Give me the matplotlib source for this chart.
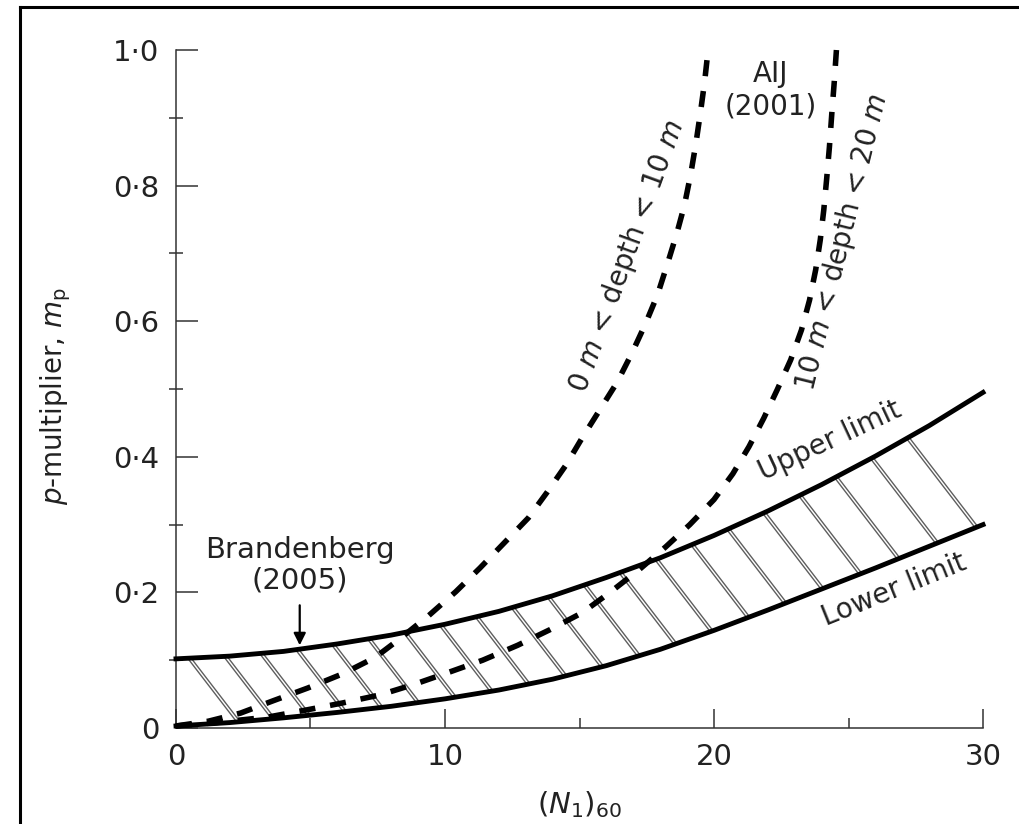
import numpy as np
import matplotlib.pyplot as plt
from matplotlib.lines import Line2D

# Brandenberg (2005) range of p-multiplier vs (N1)60
upper_n = [0, 2, 4, 6, 8, 10, 12, 14, 16, 18, 20, 22, 24, 26, 28, 30]
upper_mp = [0.102, 0.106, 0.113, 0.124, 0.137, 0.153, 0.172, 0.195, 0.222, 0.251,
            0.284, 0.320, 0.359, 0.401, 0.446, 0.495]
lower_n = [0, 2, 4, 6, 8, 10, 12, 14, 16, 18, 20, 22, 24, 26, 28, 30]
lower_mp = [0.003, 0.008, 0.015, 0.023, 0.032, 0.043, 0.056, 0.072, 0.092, 0.116,
            0.144, 0.174, 0.205, 0.236, 0.268, 0.300]

# AIJ (2001), 0 m < depth < 10 m
aij_shallow_n = [0, 1.2, 2.4, 3.6, 4.9, 6.2, 7.4, 8.3, 9.4, 10.4, 11.3, 12.2, 13.1,
                 13.8, 14.5, 15.1, 15.75, 16.4, 16.95, 17.45, 17.9, 18.28, 18.62, 18.9,
                 19.13, 19.33, 19.5, 19.65, 19.78]
aij_shallow_mp = [0.003, 0.010, 0.022, 0.040, 0.059, 0.080, 0.104, 0.131, 0.166, 0.201,
                  0.236, 0.273, 0.310, 0.348, 0.388, 0.428, 0.469, 0.510, 0.553, 0.596,
                  0.639, 0.686, 0.730, 0.771, 0.816, 0.863, 0.909, 0.953, 1.0]

# AIJ (2001), 10 m < depth < 20 m
aij_deep_n = [0, 1.5, 3.4, 4.9, 6.2, 7.6, 8.9, 10.2, 11.4, 12.7, 13.9, 15.1, 16.1,
              17.2, 18.2, 19.1, 20.0, 20.7, 21.3, 21.85, 22.35, 22.85, 23.25, 23.55,
              23.78, 23.95, 24.08, 24.19, 24.29, 24.38, 24.47, 24.55]
aij_deep_mp = [0.003, 0.008, 0.016, 0.027, 0.037, 0.049, 0.065, 0.083, 0.100, 0.122,
               0.145, 0.170, 0.199, 0.233, 0.267, 0.300, 0.337, 0.375, 0.415, 0.457,
               0.499, 0.543, 0.587, 0.631, 0.676, 0.720, 0.764, 0.811, 0.857, 0.907,
               0.953, 1.0]

x_ticks = [0, 10, 20, 30]
x_labels = ['0', '10', '20', '30']
y_ticks = [0, 0.2, 0.4, 0.6, 0.8, 1.0]
y_labels = ['0', '0·2', '0·4', '0·6', '0·8', '1·0']

plt.rcParams['font.family'] = ['DejaVu Sans']
plt.rcParams['mathtext.fontset'] = 'dejavusans'

fig = plt.figure(figsize=(10.19, 8.24), dpi=100)
ax = fig.add_axes([0.1727, 0.1165, 0.792, 0.8228])

# hatching between the two limits: parallel strokes from upper to lower curve
grid = np.linspace(0, 30, 3001)
lo_grid = np.interp(grid, lower_n, lower_mp)
slope = -0.0516
for x0 in np.linspace(0.5, 27.2, 21):
    y0 = np.interp(x0, upper_n, upper_mp)
    seg = y0 + slope * (grid - x0)
    hit = np.where((grid > x0) & (seg <= lo_grid))[0]
    x1 = grid[hit[0]] if len(hit) else 30
    y1 = y0 + slope * (x1 - x0)
    ax.plot([x0, x1], [y0, y1], color='#5e5e5e', lw=3.0, solid_capstyle='butt', zorder=1)
    ax.plot([x0, x1], [y0, y1], color='white', lw=1.0, solid_capstyle='butt', zorder=1.1)

ax.plot(upper_n, upper_mp, color='k', lw=3.5, zorder=3, clip_on=False)
ax.plot(lower_n, lower_mp, color='k', lw=3.5, zorder=3, clip_on=False)
ax.plot(aij_shallow_n, aij_shallow_mp, color='k', lw=4.0, ls=(0, (2.9, 2.7)),
        dash_capstyle='butt', zorder=4, clip_on=False)
ax.plot(aij_deep_n, aij_deep_mp, color='k', lw=4.0, ls=(0, (2.9, 2.7)),
        dash_capstyle='butt', zorder=4, clip_on=False)

ax.set_xlim(0, 30)
ax.set_ylim(0, 1.0)
ax.set_xticks(x_ticks, x_labels)
ax.set_xticks([5, 15, 25], minor=True)
ax.set_yticks(y_ticks, y_labels)
ax.set_yticks([0.1, 0.3, 0.5, 0.7, 0.9], minor=True)
ax.tick_params(axis='y', which='major', direction='in', length=16, width=1.1,
               pad=12, labelsize=21, colors='#333', labelcolor='#222')
ax.tick_params(axis='y', which='minor', direction='inout', length=10, width=1.1, colors='#333')
ax.tick_params(axis='x', which='major', direction='in', length=14, width=1.1,
               pad=11, labelsize=21, colors='#333', labelcolor='#222')
ax.tick_params(axis='x', which='minor', direction='in', length=7, width=1.1, colors='#333')
for side in ['top', 'right']:
    ax.spines[side].set_visible(False)
for side in ['left', 'bottom']:
    ax.spines[side].set_linewidth(1.1)
    ax.spines[side].set_color('#333')

ax.set_xlabel(r'$(N_1)_{60}$', fontsize=21, color='#222')
ax.xaxis.set_label_coords(0.5, -0.09)
ax.set_ylabel(r'$p$-multiplier, $m_{\mathrm{p}}$', fontsize=20, color='#222')
ax.yaxis.set_label_coords(-0.128, 0.49)

ax.text(22.1, 0.94, 'AIJ\n(2001)', ha='center', va='center', fontsize=20, color='#222')
ax.text(16.77, 0.695, r'0 $m$ < depth < 10 $m$', rotation=70, ha='center', va='center',
        fontsize=20, color='#222', rotation_mode='anchor')
ax.text(24.76, 0.717, r'10 $m$ < depth < 20 $m$', rotation=76, ha='center', va='center',
        fontsize=20, color='#222', rotation_mode='anchor')
ax.text(24.3, 0.424, 'Upper limit', rotation=25, ha='center', va='center',
        fontsize=20, color='#222', rotation_mode='anchor')
ax.text(26.7, 0.204, 'Lower limit', rotation=22, ha='center', va='center',
        fontsize=20, color='#222', rotation_mode='anchor')
ax.text(4.6, 0.24, 'Brandenberg\n(2005)', ha='center', va='center', fontsize=21,
        color='#222', linespacing=1.1)
ax.annotate('', xy=(4.6, 0.122), xytext=(4.6, 0.181),
            arrowprops=dict(arrowstyle='-|>', color='k', lw=1.6, mutation_scale=18,
                            shrinkA=0, shrinkB=0))

# outer frame (top and left edges)
fig.add_artist(Line2D([20 / 1019, 20 / 1019], [0, 1 - 7 / 824], transform=fig.transFigure,
                      color='k', lw=2.2))
fig.add_artist(Line2D([20 / 1019, 1], [1 - 7 / 824, 1 - 7 / 824], transform=fig.transFigure,
                      color='k', lw=2.2))

fig.savefig('out.png', dpi=100)
